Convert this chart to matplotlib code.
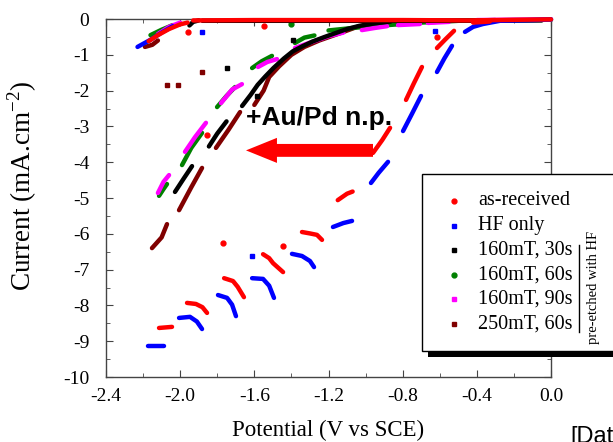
import matplotlib
matplotlib.use("Agg")
import matplotlib.pyplot as plt
from matplotlib.patches import Rectangle, FancyArrow
from matplotlib.lines import Line2D

plt.rcParams['font.family'] = ['Liberation Serif', 'DejaVu Serif']
plt.rcParams['mathtext.fontset'] = 'custom'
plt.rcParams['mathtext.rm'] = 'Liberation Serif'
plt.rcParams['axes.unicode_minus'] = False

W, H = 613, 442

# series: name, colour, marker, list of broken segments (V, mA/cm2), isolated dots
labels = ["as-received", "HF only", "160mT, 30s", "160mT, 60s", "160mT, 90s", "250mT, 60s"]
colors = ["#ff0000", "#0000ff", "#000000", "#008000", "#ff00ff", "#800000"]
markers = ["o", "s", "s", "o", "s", "s"]

red_segs = [
    [(-2.17, -0.62), (-2.12, -0.45), (-2.06, -0.28), (-2.0, -0.15), (-1.96, -0.10)],
    [(-1.93, -0.04), (-1.6, -0.03), (-1.2, -0.03), (-0.8, -0.03), (-0.45, -0.04), (0.0, -0.01)],
    [(-0.42, -0.10), (-0.33, -0.07)],
    [(-0.523, -0.33), (-0.57, -0.57), (-0.615, -0.81)],
    [(-0.696, -1.34), (-0.74, -1.80), (-0.782, -2.26)],
    [(-0.868, -3.04), (-0.91, -3.38), (-0.96, -3.74)],
    [(-1.07, -4.82), (-1.10, -4.88), (-1.15, -5.06)],
    [(-1.343, -5.95), (-1.30, -5.99), (-1.262, -6.03), (-1.235, -6.17)],
    [(-1.553, -6.57), (-1.52, -6.68), (-1.499, -6.82), (-1.445, -7.07)],
    [(-1.763, -7.24), (-1.715, -7.32), (-1.69, -7.48), (-1.656, -7.77)],
    [(-1.963, -7.93), (-1.915, -7.96), (-1.88, -8.05), (-1.855, -8.21)],
    [(-2.114, -8.63), (-2.044, -8.60)],
]
red_dots = [(-1.96, -0.36), (-1.55, -0.20), (-0.615, -0.50), (-1.855, -3.24),
            (-1.769, -6.26), (-1.445, -6.34)]

blue_segs = [
    [(-2.23, -0.78), (-2.16, -0.58), (-2.10, -0.38), (-2.04, -0.20)],
    [(-0.464, -0.36), (-0.42, -0.22), (-0.367, -0.14), (-0.275, -0.05), (-0.1, -0.03), (0.0, -0.01)],
    [(-0.534, -0.75), (-0.575, -1.10), (-0.615, -1.48)],
    [(-0.701, -2.15), (-0.75, -2.65), (-0.798, -3.13)],
    [(-0.879, -3.99), (-0.93, -4.30), (-0.971, -4.58)],
    [(-1.073, -5.64), (-1.12, -5.70), (-1.176, -5.81)],
    [(-1.397, -6.56), (-1.343, -6.62), (-1.30, -6.76), (-1.278, -6.93)],
    [(-1.612, -7.24), (-1.553, -7.26), (-1.52, -7.45), (-1.494, -7.79)],
    [(-1.796, -7.71), (-1.747, -7.79), (-1.72, -7.98), (-1.699, -8.30)],
    [(-2.006, -8.35), (-1.947, -8.32), (-1.91, -8.45), (-1.882, -8.66)],
    [(-2.173, -9.13), (-2.087, -9.13)],
]
blue_dots = [(-1.882, -0.36), (-0.626, -0.34), (-1.612, -6.62)]

black_segs = [
    [(-1.95, -0.18), (-1.93, -0.08), (-1.9, -0.04)],
    [(-1.88, -0.05), (-1.3, -0.05), (-0.7, -0.05), (-0.05, -0.04)],
    [(-1.845, -3.56), (-1.80, -3.20), (-1.75, -2.86)],
    [(-1.666, -2.43), (-1.62, -2.12), (-1.582, -1.84), (-1.54, -1.60), (-1.497, -1.37),
     (-1.44, -1.10), (-1.392, -0.90), (-1.34, -0.76), (-1.286, -0.63), (-1.22, -0.50),
     (-1.16, -0.39), (-1.10, -0.28), (-1.033, -0.19), (-0.95, -0.12), (-0.865, -0.07)],
    [(-2.028, -4.83), (-1.98, -4.45), (-1.936, -4.11)],
]
black_dots = [(-1.747, -1.37), (-1.586, -2.16), (-1.39, -0.58)]

green_segs = [
    [(-2.16, -0.45), (-2.10, -0.30), (-2.04, -0.17)],
    [(-1.612, -1.37), (-1.56, -1.18), (-1.505, -1.03)],
    [(-1.801, -2.46), (-1.75, -2.15), (-1.704, -1.90)],
    [(-1.99, -4.08), (-1.94, -3.60), (-1.882, -3.18)],
    [(-2.114, -4.94), (-2.09, -4.75), (-2.071, -4.61)],
    [(-1.381, -0.67), (-1.33, -0.52), (-1.276, -0.46)],
    [(-1.2, -0.32), (-1.05, -0.24), (-0.88, -0.17), (-0.7, -0.10), (-0.5, -0.05), (-0.2, -0.03), (0.0, -0.02)],
]
green_dots = [(-1.40, -0.14)]

magenta_segs = [
    [(-2.12, -0.42), (-2.06, -0.22), (-2.0, -0.10)],
    [(-1.58, -1.34), (-1.53, -1.20), (-1.478, -1.12)],
    [(-1.78, -2.35), (-1.72, -1.97), (-1.667, -1.82)],
    [(-1.974, -3.71), (-1.92, -3.30), (-1.861, -2.90)],
    [(-2.12, -4.86), (-2.09, -4.55), (-2.06, -4.36)],
    [(-1.381, -0.81), (-1.30, -0.66), (-1.20, -0.48), (-1.12, -0.38)],
    [(-1.02, -0.31), (-0.95, -0.25), (-0.884, -0.20)],
    [(-0.825, -0.17), (-0.707, -0.14)],
    [(-0.664, -0.11), (-0.55, -0.08)],
    [(-0.4, -0.03), (0.0, -0.01)],
]
magenta_dots = []

maroon_segs = [
    [(-2.19, -0.78), (-2.15, -0.72), (-2.12, -0.60)],
    [(-1.807, -3.60), (-1.74, -3.10), (-1.677, -2.60)],
    [(-1.60, -2.40), (-1.55, -2.00), (-1.52, -1.62), (-1.466, -1.32), (-1.40, -1.00),
     (-1.33, -0.78), (-1.25, -0.60), (-1.14, -0.40), (-1.046, -0.22), (-0.97, -0.14), (-0.865, -0.09)],
    [(-2.006, -5.34), (-1.94, -4.70), (-1.882, -4.16)],
    [(-2.152, -6.40), (-2.10, -6.10), (-2.071, -5.73)],
    [(-0.8, -0.06), (-0.5, -0.05), (-0.3, -0.03)],
]
maroon_dots = [(-2.071, -1.84), (-2.012, -1.84), (-1.882, -1.48)]

all_segs = [red_segs, blue_segs, black_segs, green_segs, magenta_segs, maroon_segs]
all_dots = [red_dots, blue_dots, black_dots, green_dots, magenta_dots, maroon_dots]
zorders = [8, 7, 6, 4, 5, 3]

# annotation arrow (data coords)
arrow_start = (-0.96, -3.67)
arrow_end_x = -1.645

fig = plt.figure(figsize=(W / 100, H / 100), dpi=100)
ax = fig.add_axes([106 / W, 1 - 377 / H, 445 / W, 358 / H])

for segs, dots, c, m, z in zip(all_segs, all_dots, colors, markers, zorders):
    for seg in segs:
        xs = [p[0] for p in seg]
        ys = [p[1] for p in seg]
        ax.plot(xs, ys, color=c, lw=3.2, solid_capstyle='round', zorder=z, clip_on=False)
    for d in dots:
        ax.plot(d[0], d[1], marker=m, color=c, ms=3.5, ls='none', zorder=z)

ax.add_patch(FancyArrow(arrow_start[0], arrow_start[1], arrow_end_x - arrow_start[0], 0,
                        width=0.36, head_width=0.70, head_length=0.167,
                        length_includes_head=True, color='#ff0000', lw=0, zorder=9))
ax.text(-1.645, -2.77, "+Au/Pd n.p.", family=['Liberation Sans', 'DejaVu Sans'],
        fontweight='bold', fontsize=19, va='center', ha='left', zorder=10)

ax.set_xlim(-2.4, 0.0)
ax.set_ylim(-10, 0)
ax.set_xticks([-2.4, -2.0, -1.6, -1.2, -0.8, -0.4, 0.0])
ax.set_xticklabels(["-2.4", "-2.0", "-1.6", "-1.2", "-0.8", "-0.4", "0.0"])
ax.set_xticks([-2.2, -1.8, -1.4, -1.0, -0.6, -0.2], minor=True)
ax.set_yticks(range(-10, 1))
ax.set_yticklabels([str(v) for v in range(-10, 1)])
ax.set_yticks([v + 0.5 for v in range(-10, 0)], minor=True)
ax.tick_params(which='both', direction='in', top=True, right=True, labelsize=14, color='#444444')
ax.tick_params(which='major', length=5)
ax.tick_params(which='minor', length=3)
ax.tick_params(axis='y', pad=12)
ax.tick_params(axis='x', pad=8)
for s in ax.spines.values():
    s.set_color('#444444')
    s.set_linewidth(1.0)

fig.text(328 / W, 1 - 430 / H, "Potential (V vs SCE)", fontsize=16.5, ha='center', va='center')
fig.text(22 / W, 1 - 186 / H, "Current (mA.cm$^{-2}$)", fontsize=19.5, rotation=90,
         ha='center', va='center')

# legend box with shadow, partly outside the figure
fig.patches.append(Rectangle((428 / W, 1 - 357 / H), 220 / W, 177 / H, transform=fig.transFigure,
                             facecolor='black', edgecolor='none', zorder=20))
fig.patches.append(Rectangle((422 / W, 1 - 351 / H), 220 / W, 177 / H, transform=fig.transFigure,
                             facecolor='white', edgecolor='black', lw=1.0, zorder=21))
for i, (lab, c, m) in enumerate(zip(labels, colors, markers)):
    yy = 1 - (201 + i * 24.6) / H
    fig.lines.append(Line2D([454 / W], [yy], transform=fig.transFigure, marker=m, color=c,
                            ms=3.5, ls='none', zorder=22))
    fig.text(478 / W, yy, lab, fontsize=14.5, va='center', ha='left', zorder=22)
fig.lines.append(Line2D([579 / W, 579 / W], [1 - 245 / H, 1 - 332 / H], transform=fig.transFigure,
                        color='black', lw=1.0, zorder=22))
fig.text(593 / W, 1 - 287 / H, "pre-etched with HF", fontsize=10.5, rotation=90,
         ha='center', va='center', zorder=22)

fig.text(570 / W, 1 - 426 / H, "[Dat", fontsize=17, family=['Liberation Sans', 'DejaVu Sans'],
         ha='left', va='top')

fig.savefig("out.png", dpi=100)
